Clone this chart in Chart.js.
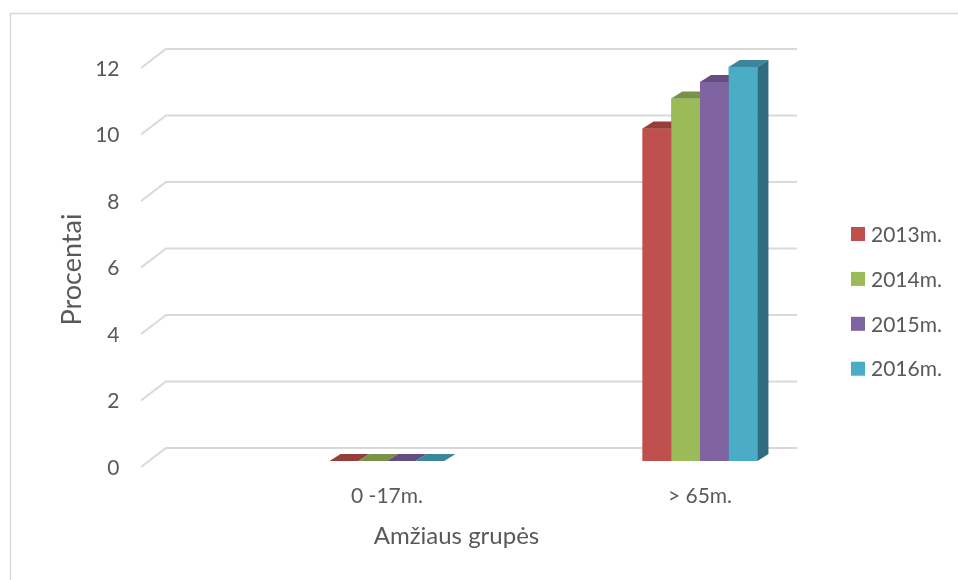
<!DOCTYPE html>
<html>
<head>
<meta charset="utf-8">
<script src="https://cdn.jsdelivr.net/npm/chart.js@4.4.1/dist/chart.umd.min.js"></script>
<style>
  html, body { margin: 0; padding: 0; background: #fff; }
  #wrap { width: 958px; height: 580px; position: relative; }
</style>
</head>
<body>
<div id="wrap"><canvas id="chart" width="958" height="580"></canvas></div>
<script>
// Age groups and yearly shares (percent)
const categories = ['0 -17m.', '> 65m.'];
const seriesNames = ['2013m.', '2014m.', '2015m.', '2016m.'];
const values2013 = [0, 10.0];
const values2014 = [0, 10.9];
const values2015 = [0, 11.4];
const values2016 = [0, 11.85];
const yTicks = [0, 2, 4, 6, 8, 10, 12];
const xTitle = 'Amžiaus grupės';
const yTitle = 'Procentai';

const seriesValues = [values2013, values2014, values2015, values2016];
const seriesColors = ['#C0504D', '#9BBB59', '#8064A2', '#4BACC6'];
const TEXT = '#595959';
const GRID = '#d9d9d9';
const FONT = 'Lato, "Open Sans", sans-serif';

// 3D look: depth of each bar and of the floor grid
const BAR_DX = 11, BAR_DY = 7;
const GRID_BACK_DY = 13, GRID_FRONT_DY = 6;
const GRID_FRONT_X = 141, GRID_BACK_X = 166, GRID_BACK_RIGHT = 797;

function shade(hex, f) {
  const n = parseInt(hex.slice(1), 16);
  const r = Math.round(((n >> 16) & 255) * f);
  const g = Math.round(((n >> 8) & 255) * f);
  const b = Math.round((n & 255) * f);
  return `rgb(${r},${g},${b})`;
}

const frame = {
  id: 'frame',
  beforeDraw(chart) {
    const ctx = chart.ctx;
    ctx.save();
    ctx.fillStyle = '#fff';
    ctx.fillRect(0, 0, chart.width, chart.height);
    ctx.strokeStyle = GRID;
    ctx.lineWidth = 1.5;
    ctx.strokeRect(10.5, 13.5, chart.width + 20, chart.height + 20);
    ctx.restore();
  }
};

// slanted floor grid lines, one per value tick
const grid3d = {
  id: 'grid3d',
  beforeDatasetsDraw(chart) {
    const ctx = chart.ctx;
    const ys = chart.scales.y;
    ctx.save();
    ctx.strokeStyle = GRID;
    ctx.lineWidth = 2;
    ys.ticks.forEach(t => {
      const py = ys.getPixelForValue(t.value);
      ctx.beginPath();
      ctx.moveTo(GRID_FRONT_X, py + GRID_FRONT_DY);
      ctx.lineTo(GRID_BACK_X, py - GRID_BACK_DY);
      ctx.lineTo(GRID_BACK_RIGHT, py - GRID_BACK_DY);
      ctx.stroke();
    });
    ctx.restore();
  }
};

// each bar as a block: front, top and right side, left to right within a group
const bars3d = {
  id: 'bars3d',
  afterDatasetsDraw(chart) {
    const ctx = chart.ctx;
    ctx.save();
    chart.data.datasets.forEach((ds, di) => {
      const meta = chart.getDatasetMeta(di);
      const col = seriesColors[di];
      meta.data.forEach(el => {
        const { x, y, base: b, width } = el.getProps(['x', 'y', 'base', 'width'], true);
        const l = x - width / 2, r = x + width / 2;
        ctx.fillStyle = col;
        ctx.fillRect(l, y, width, b - y);
        ctx.fillStyle = shade(col, 0.78);
        ctx.beginPath();
        ctx.moveTo(l, y);
        ctx.lineTo(l + BAR_DX, y - BAR_DY);
        ctx.lineTo(r + BAR_DX, y - BAR_DY);
        ctx.lineTo(r, y);
        ctx.closePath();
        ctx.fill();
        ctx.fillStyle = shade(col, 0.63);
        ctx.beginPath();
        ctx.moveTo(r, y);
        ctx.lineTo(r + BAR_DX, y - BAR_DY);
        ctx.lineTo(r + BAR_DX, b - BAR_DY);
        ctx.lineTo(r, b);
        ctx.closePath();
        ctx.fill();
      });
    });
    ctx.restore();
  }
};

// axis titles, centred on the floor front edge and on the value range
const axisTitles = {
  id: 'axisTitles',
  afterDraw(chart) {
    const ctx = chart.ctx;
    const ys = chart.scales.y;
    ctx.save();
    ctx.fillStyle = TEXT;
    ctx.textAlign = 'center';
    ctx.textBaseline = 'middle';
    ctx.font = `24px ${FONT}`;
    const floorRight = GRID_BACK_RIGHT - (GRID_BACK_X - GRID_FRONT_X);
    ctx.fillText(xTitle, (GRID_FRONT_X + floorRight) / 2, 536);
    const midY = (ys.getPixelForValue(ys.min) + ys.getPixelForValue(ys.max)) / 2 + GRID_FRONT_DY + 2;
    ctx.translate(72, midY);
    ctx.rotate(-Math.PI / 2);
    ctx.font = `27px ${FONT}`;
    ctx.fillText(yTitle, 0, 0);
    ctx.restore();
  }
};

const sideLegend = {
  id: 'sideLegend',
  afterDraw(chart) {
    const ctx = chart.ctx;
    ctx.save();
    ctx.font = `21px ${FONT}`;
    ctx.textBaseline = 'middle';
    ctx.textAlign = 'left';
    chart.data.datasets.forEach((ds, i) => {
      const cy = 234 + i * 44.9;
      ctx.fillStyle = ds.backgroundColor;
      ctx.fillRect(851, cy - 7, 14, 14);
      ctx.fillStyle = TEXT;
      ctx.fillText(ds.label, 871, cy + 1);
    });
    ctx.restore();
  }
};

new Chart(document.getElementById('chart'), {
  type: 'bar',
  data: {
    labels: categories,
    datasets: seriesNames.map((name, i) => ({
      label: name,
      data: seriesValues[i],
      backgroundColor: seriesColors[i],
      borderWidth: 0,
      categoryPercentage: 0.367,
      barPercentage: 1.0
    }))
  },
  options: {
    responsive: false,
    animation: false,
    events: [],
    layout: { autoPadding: false, padding: { left: 40, right: 101.5, top: 62, bottom: 20 } },
    plugins: { legend: { display: false }, tooltip: { enabled: false } },
    scales: {
      x: {
        grid: { display: false, drawTicks: false },
        border: { display: false },
        ticks: { color: TEXT, font: { family: FONT, size: 21 }, padding: 23 },
        afterFit(s) { s.height = 99; s.paddingLeft = 0; s.paddingRight = 0; }
      },
      y: {
        min: 0, max: 12,
        afterBuildTicks(s) { s.ticks = yTicks.map(v => ({ value: v })); },
        grid: { display: false, drawTicks: false },
        border: { display: false },
        ticks: { color: TEXT, font: { family: FONT, size: 21 }, padding: 111, labelOffset: 7 },
        afterFit(s) { s.width = 190.5; s.paddingTop = 0; s.paddingBottom = 0; }
      }
    }
  },
  plugins: [frame, grid3d, bars3d, axisTitles, sideLegend]
});
</script>
</body>
</html>
